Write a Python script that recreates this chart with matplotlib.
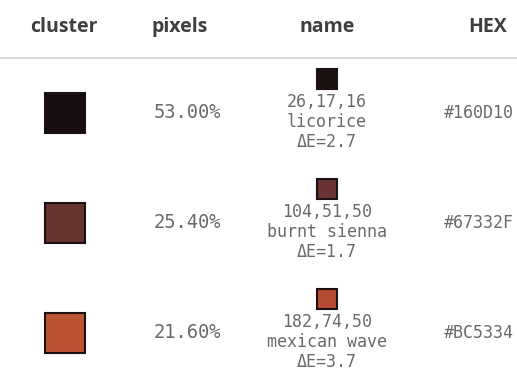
import matplotlib.pyplot as plt
from matplotlib.patches import Rectangle

headers = ['cluster', 'pixels', 'name', 'HEX']
hex_codes = ['#160D10', '#67332F', '#BC5334']
pixel_share = [53.00, 25.40, 21.60]
name_rgb = [(26, 17, 16), (104, 51, 50), (182, 74, 50)]
color_names = ['licorice', 'burnt sienna', 'mexican wave']
delta_e = [2.7, 1.7, 3.7]

W, H = 517, 377
head_x = [64, 180, 327, 488]
col_x = [65, 187, 327, 479]
header_y = 27
row_top = 69
row_pitch = 110
mono = 'DejaVu Sans Mono'
text_c = '#6a6a6a'
edge_c = '#1c1214'


def draw_table(ax):
    for x, h in zip(head_x, headers):
        ax.text(x, header_y, h, ha='center', va='center', fontsize=14,
                fontweight='bold', family='Open Sans', color='#3f3f3f')
    ax.plot([0, W], [58, 58], color='#d2d2d2', lw=1.2)

    for i, (hx, p, rgb, nm, de) in enumerate(zip(hex_codes, pixel_share, name_rgb,
                                                  color_names, delta_e)):
        top = row_top + i * row_pitch
        mid = top + 44
        ax.add_patch(Rectangle((col_x[0] - 20, top + 24), 40, 40, facecolor=hx,
                               edgecolor=edge_c, lw=1.5))
        ax.text(col_x[1], mid, f'{p:.2f}%', ha='center', va='center',
                fontsize=13.5, family=mono, color=text_c)
        ax.add_patch(Rectangle((col_x[2] - 10, top), 20, 20,
                               facecolor=tuple(c / 255 for c in rgb),
                               edgecolor=edge_c, lw=1.5))
        lines = [','.join(str(c) for c in rgb), nm, f'ΔE={de}']
        for k, s in enumerate(lines):
            ax.text(col_x[2], top + 33 + k * 20, s, ha='center', va='center',
                    fontsize=12, family=mono, color=text_c)
        ax.text(col_x[3], mid, hx, ha='center', va='center',
                fontsize=12, family=mono, color=text_c)


def main():
    fig = plt.figure(figsize=(W / 100, H / 100), dpi=100)
    ax = fig.add_axes([0, 0, 1, 1])
    ax.set_xlim(0, W)
    ax.set_ylim(H, 0)
    ax.axis('off')
    draw_table(ax)
    fig.savefig('out.png', dpi=100, facecolor='white')


if __name__ == '__main__':
    main()
